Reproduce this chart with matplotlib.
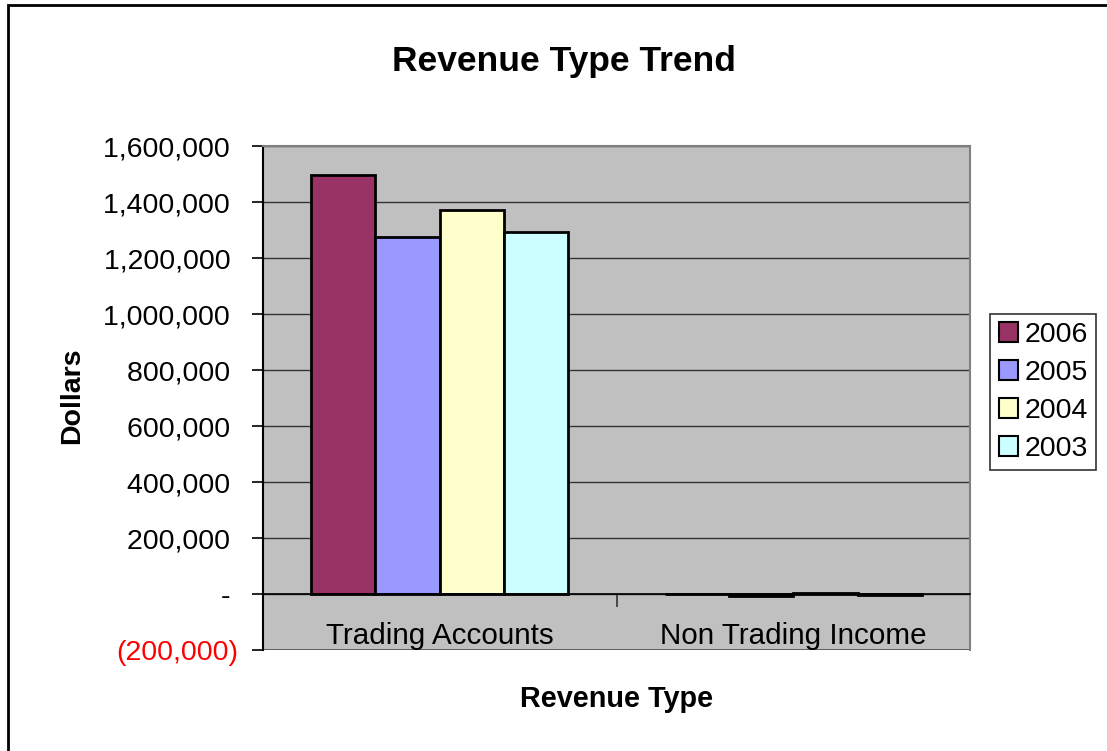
import matplotlib
matplotlib.use("Agg")
import matplotlib.pyplot as plt
from matplotlib.patches import Rectangle
from matplotlib.ticker import FuncFormatter
import numpy as np

plt.rcParams['font.family'] = ['Liberation Sans', 'DejaVu Sans']

# Data
categories = ['Trading Accounts', 'Non Trading Income']
years = ['2006', '2005', '2004', '2003']
values = {
    '2006': [1496000, 0],
    '2005': [1275000, -8000],
    '2004': [1371000, 5000],
    '2003': [1293000, -3000],
}
colors = ['#993366', '#9999FF', '#FFFFCC', '#CCFFFF']
yticks = np.arange(-200000, 1600001, 200000)


# accounting style: positives padded on the right, negatives in brackets
def dollar_fmt(v, pos):
    if v == 0:
        return '- '
    if v < 0:
        return f'({abs(v):,.0f})'
    return f'{v:,.0f} '


W, H = 1107, 751
fig = plt.figure(figsize=(W / 100, H / 100), dpi=100)
ax = fig.add_axes([263 / W, 1 - 650 / H, (970 - 263) / W, (650 - 146) / H])
ax.set_facecolor('#C0C0C0')

x = np.arange(len(categories))
width = 0.182
for i, yr in enumerate(years):
    ax.bar(x + (i - 1.5) * width, values[yr], width, color=colors[i],
           edgecolor='black', linewidth=2, label=yr, zorder=3)

ax.set_xlim(-0.5, len(categories) - 0.5)
ax.set_ylim(yticks[0], yticks[-1])
ax.set_yticks(yticks)
ax.yaxis.set_major_formatter(FuncFormatter(dollar_fmt))
ax.tick_params(axis='y', labelsize=20.5, length=8, width=1.2, direction='out', pad=10)
for lbl, v in zip(ax.get_yticklabels(), yticks):
    if v < 0:
        lbl.set_color('red')

# gridlines
for v in yticks[1:]:
    ax.axhline(v, color='#333333', linewidth=1, zorder=1)
ax.axhline(yticks[0], color='#555555', linewidth=2, zorder=1)

# category axis crosses at zero
ax.spines['bottom'].set_position(('data', 0))
ax.spines['bottom'].set_linewidth(1.2)
ax.spines['bottom'].set_zorder(4)
ax.set_xticks([-0.5, 0.5, 1.5])
ax.set_xticklabels([])
ax.tick_params(axis='x', length=9, width=1.2, direction='out', color='#333333')
ax.spines['left'].set_linewidth(1.5)
for s in ['top', 'right']:
    ax.spines[s].set_color('#808080')
    ax.spines[s].set_linewidth(1.5)

for xi, cat in zip(x, categories):
    ax.text(xi, -150000, cat, ha='center', va='center', fontsize=21.3)

fig.text(564 / W, 1 - 61 / H, 'Revenue Type Trend', ha='center', va='center',
         fontsize=25.5, fontweight='bold')
fig.text(72 / W, 1 - 396 / H, 'Dollars', ha='center', va='center',
         rotation=90, fontsize=20.5, fontweight='bold')
fig.text(617 / W, 1 - 699 / H, 'Revenue Type', ha='center', va='center',
         fontsize=20.8, fontweight='bold')

leg = ax.legend(loc='center left', bbox_to_anchor=(990 / W, 1 - 392 / H),
                bbox_transform=fig.transFigure, fontsize=20.5, frameon=True,
                fancybox=False, handlelength=0.7, handleheight=0.7,
                handletextpad=0.2, labelspacing=0.42, borderpad=0.3,
                borderaxespad=0)
leg.get_frame().set_edgecolor('black')
leg.get_frame().set_linewidth(1.2)
for p in leg.get_patches():
    p.set_linewidth(1.5)

# outer chart border
fig.patches.append(Rectangle((8 / W, -0.05), 1.2, 1 - 5 / H + 0.05,
                             transform=fig.transFigure, fill=False,
                             edgecolor='black', linewidth=2))

fig.savefig('out.png', dpi=100)
